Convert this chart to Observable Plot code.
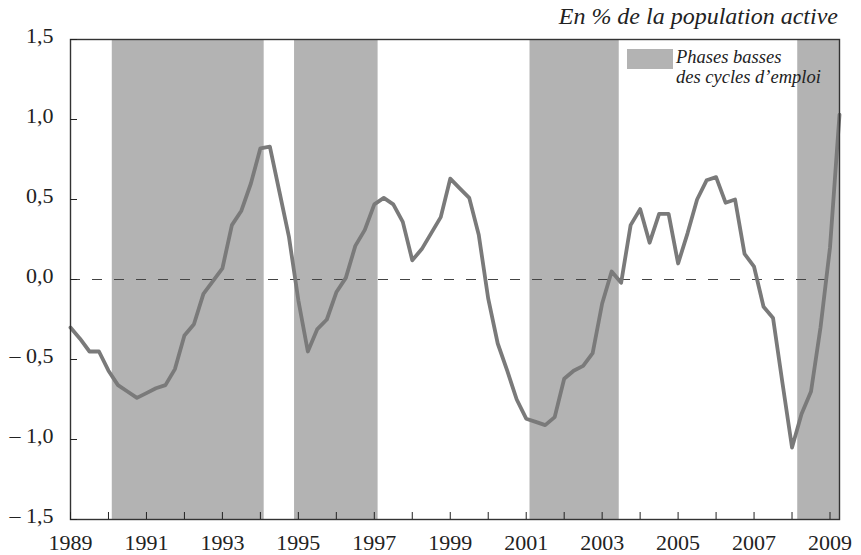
<!DOCTYPE html>
<html>
<head>
<meta charset="utf-8">
<script src="https://cdn.jsdelivr.net/npm/d3@7"></script>
<script src="https://cdn.jsdelivr.net/npm/@observablehq/plot@0.6"></script>
<style>
  html, body { margin: 0; padding: 0; background: #fff; }
  #wrap { position: relative; width: 861px; height: 555px; font-family: "Liberation Serif", "Times New Roman", serif; }
  #title { position: absolute; right: 23px; top: 1px; font-style: italic; font-size: 24px; line-height: 30px; color: #222; white-space: nowrap; }
  #swatch { position: absolute; left: 627px; top: 49px; width: 46px; height: 20px; background: #b3b3b3; }
  .lt { position: absolute; left: 676px; font-style: italic; font-size: 18.5px; line-height: 17px; height: 17px; color: #222; white-space: nowrap; }
</style>
</head>
<body>
<div id="wrap">
  <div id="chart"></div>
  <div id="title">En % de la population active</div>
  <div id="swatch"></div>
  <div class="lt" style="top:48.5px">Phases basses</div>
  <div class="lt" style="top:69px">des cycles d’emploi</div>
</div>
<script>
// Quarterly series starting 1989 Q1
const startYear = 1989;
const values = [
  -0.30, -0.37, -0.45, -0.45, -0.57, -0.66, -0.70, -0.74,
  -0.71, -0.68, -0.66, -0.56, -0.35, -0.28, -0.09, -0.01,
   0.07,  0.34,  0.43,  0.60,  0.82,  0.83,  0.55,  0.27,
  -0.13, -0.45, -0.31, -0.25, -0.08,  0.01,  0.21,  0.31,
   0.47,  0.51,  0.47,  0.36,  0.12,  0.19,  0.29,  0.39,
   0.63,  0.57,  0.51,  0.28, -0.12, -0.40, -0.57, -0.75,
  -0.87, -0.89, -0.91, -0.86, -0.62, -0.57, -0.54, -0.46,
  -0.15,  0.05, -0.02,  0.34,  0.44,  0.23,  0.41,  0.41,
   0.10,  0.29,  0.50,  0.62,  0.64,  0.48,  0.50,  0.16,
   0.08, -0.17, -0.24, -0.65, -1.05, -0.84, -0.70, -0.30,
   0.20,  1.03
];
// Low phases of employment cycles
const bandStart = [1990.1, 1994.9, 2001.1, 2008.15];
const bandEnd   = [1994.1, 1997.1, 2003.45, 2009.25];
const yearTicks = [1989,1990,1991,1992,1993,1994,1995,1996,1997,1998,1999,2000,2001,2002,2003,2004,2005,2006,2007,2008,2009];
const yearLabels = [1989,1991,1993,1995,1997,1999,2001,2003,2005,2007,2009];
const yTicks = [-1.5, -1.0, -0.5, 0, 0.5, 1.0, 1.5];

const series = values.map((v, i) => ({t: startYear + i / 4, v}));
const bands = bandStart.map((s, i) => ({s, e: bandEnd[i]}));
const fmtY = d => (d < 0 ? "\u2013 " : "") + Math.abs(d).toFixed(1).replace(".", ",");

const chart = Plot.plot({
  width: 861,
  height: 555,
  marginLeft: 70,
  marginRight: 22,
  marginTop: 39,
  marginBottom: 36,
  style: {fontFamily: "Liberation Serif, Times New Roman, serif", fontSize: "22px", color: "#222", background: "#fff"},
  x: {domain: [1989, 2009.25]},
  y: {domain: [-1.5, 1.5]},
  marks: [
    Plot.rect(bands, {x1: "s", x2: "e", fill: "#b3b3b3"}),
    Plot.ruleY([0], {stroke: "#444", strokeWidth: 1.2, strokeDasharray: "10,12"}),
    Plot.line(series, {x: "t", y: "v", stroke: "#7a7a7a", strokeWidth: 3.8, strokeLinejoin: "round", strokeLinecap: "round"}),
    Plot.frame({stroke: "#333", strokeWidth: 1.4}),
    Plot.axisX({ticks: yearTicks, tickSize: 7, dy: -7, fill: "none", stroke: "#222", label: null}),
    Plot.axisX({ticks: yearLabels, tickSize: 0, tickPadding: 15, tickFormat: d => String(d), fontSize: 22, fill: "#222", label: null}),
    Plot.axisY({ticks: yTicks, tickSize: 7, dx: 7, fill: "none", stroke: "#222", label: null}),
    Plot.axisY({ticks: yTicks, tickSize: 0, tickPadding: 17, dy: -4, tickFormat: fmtY, fontSize: 22, fill: "#222", label: null})
  ]
});
document.getElementById("chart").appendChild(chart);
</script>
</body>
</html>
